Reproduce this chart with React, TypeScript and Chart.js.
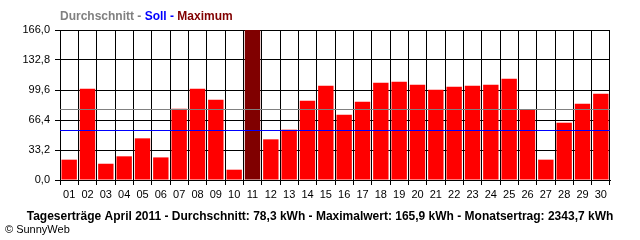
import React, { useEffect, useRef } from "react";
import { Chart, registerables } from "chart.js";

Chart.register(...registerables);

const days = ["01","02","03","04","05","06","07","08","09","10","11","12","13","14","15","16","17","18","19","20","21","22","23","24","25","26","27","28","29","30"];
const yields = [22.5,101.0,18.0,26.2,46.1,25.0,78.9,101.0,88.9,11.4,165.9,45.0,55.7,87.8,104.4,72.3,86.7,107.7,108.8,105.5,99.9,103.3,104.4,105.5,112.1,77.5,22.5,63.4,84.4,95.5];
const maxIndex = 10;
const average = 78.3;
const target = 55.3;
const yTicks = [0, 33.2, 66.4, 99.6, 132.8, 166.0];
const titleParts = [
  { text: "Durchschnitt - ", color: "#808080" },
  { text: "Soll - ", color: "#0000FF" },
  { text: "Maximum", color: "#800000" },
];
const footerText = "Tageserträge April 2011 - Durchschnitt: 78,3 kWh - Maximalwert: 165,9 kWh - Monatsertrag: 2343,7 kWh";
const creditText = "© SunnyWeb";

const FONT = "'Liberation Sans', Arial, sans-serif";

const overlayPlugin = {
  id: "overlay",
  afterDatasetsDraw(chart: any) {
    const { ctx, chartArea, scales } = chart;
    const y = scales.y;
    const drawLine = (v: number, color: string) => {
      const py = Math.round(y.getPixelForValue(v)) + 0.5;
      ctx.save();
      ctx.strokeStyle = color;
      ctx.lineWidth = 1;
      ctx.beginPath();
      ctx.moveTo(chartArea.left, py);
      ctx.lineTo(chartArea.right, py);
      ctx.stroke();
      ctx.restore();
    };
    drawLine(average, "#808080");
    drawLine(target, "#0000FF");
  },
  afterDraw(chart: any) {
    const { ctx } = chart;
    ctx.save();
    ctx.textBaseline = "alphabetic";
    ctx.textAlign = "left";
    ctx.font = `bold 12px ${FONT}`;
    let x = 60;
    for (const p of titleParts) {
      ctx.fillStyle = p.color;
      ctx.fillText(p.text, x, 20);
      x += ctx.measureText(p.text).width;
    }
    ctx.fillStyle = "#000";
    ctx.font = `bold 12px ${FONT}`;
    ctx.textAlign = "center";
    ctx.fillText(footerText, 320, 220, 596);
    ctx.font = `11px ${FONT}`;
    ctx.textAlign = "left";
    ctx.fillText(creditText, 5, 233);
    ctx.restore();
  },
};

export default function App() {
  const ref = useRef<HTMLCanvasElement>(null);
  useEffect(() => {
    document.body.style.margin = "0";
    const chart = new Chart(ref.current!, {
      type: "bar",
      data: {
        labels: days,
        datasets: [
          {
            data: yields,
            backgroundColor: yields.map((_, i) => (i === maxIndex ? "#800000" : "#FF0000")),
            borderWidth: 0,
            barPercentage: 0.84,
            categoryPercentage: 1,
          },
        ],
      },
      options: {
        animation: false,
        responsive: false,
        devicePixelRatio: 1,
        layout: { padding: { left: 0, top: 30, right: 30, bottom: 0 } },
        plugins: { legend: { display: false }, tooltip: { enabled: false }, title: { display: false } },
        scales: {
          x: {
            grid: { color: "#000", lineWidth: 1, tickLength: 5, offset: true, drawTicks: true },
            border: { color: "#000", width: 1 },
            ticks: { color: "#000", font: { family: FONT, size: 11 }, padding: 3, maxRotation: 0, autoSkip: false },
            afterFit: (s: any) => { s.height = 60; },
          },
          y: {
            min: 0,
            max: 166,
            afterBuildTicks: (s: any) => { s.ticks = yTicks.map((v) => ({ value: v })); },
            grid: { color: "#000", lineWidth: 1, tickLength: 5 },
            border: { color: "#000", width: 1 },
            ticks: {
              color: "#000",
              font: { family: FONT, size: 11 },
              padding: 5,
              callback: (v: any) => Number(v).toFixed(1).replace(".", ","),
            },
            afterFit: (s: any) => { s.width = 60; },
          },
        },
      },
      plugins: [overlayPlugin],
    });
    return () => chart.destroy();
  }, []);
  return <canvas ref={ref} width={640} height={240} style={{ display: "block" }} />;
}
